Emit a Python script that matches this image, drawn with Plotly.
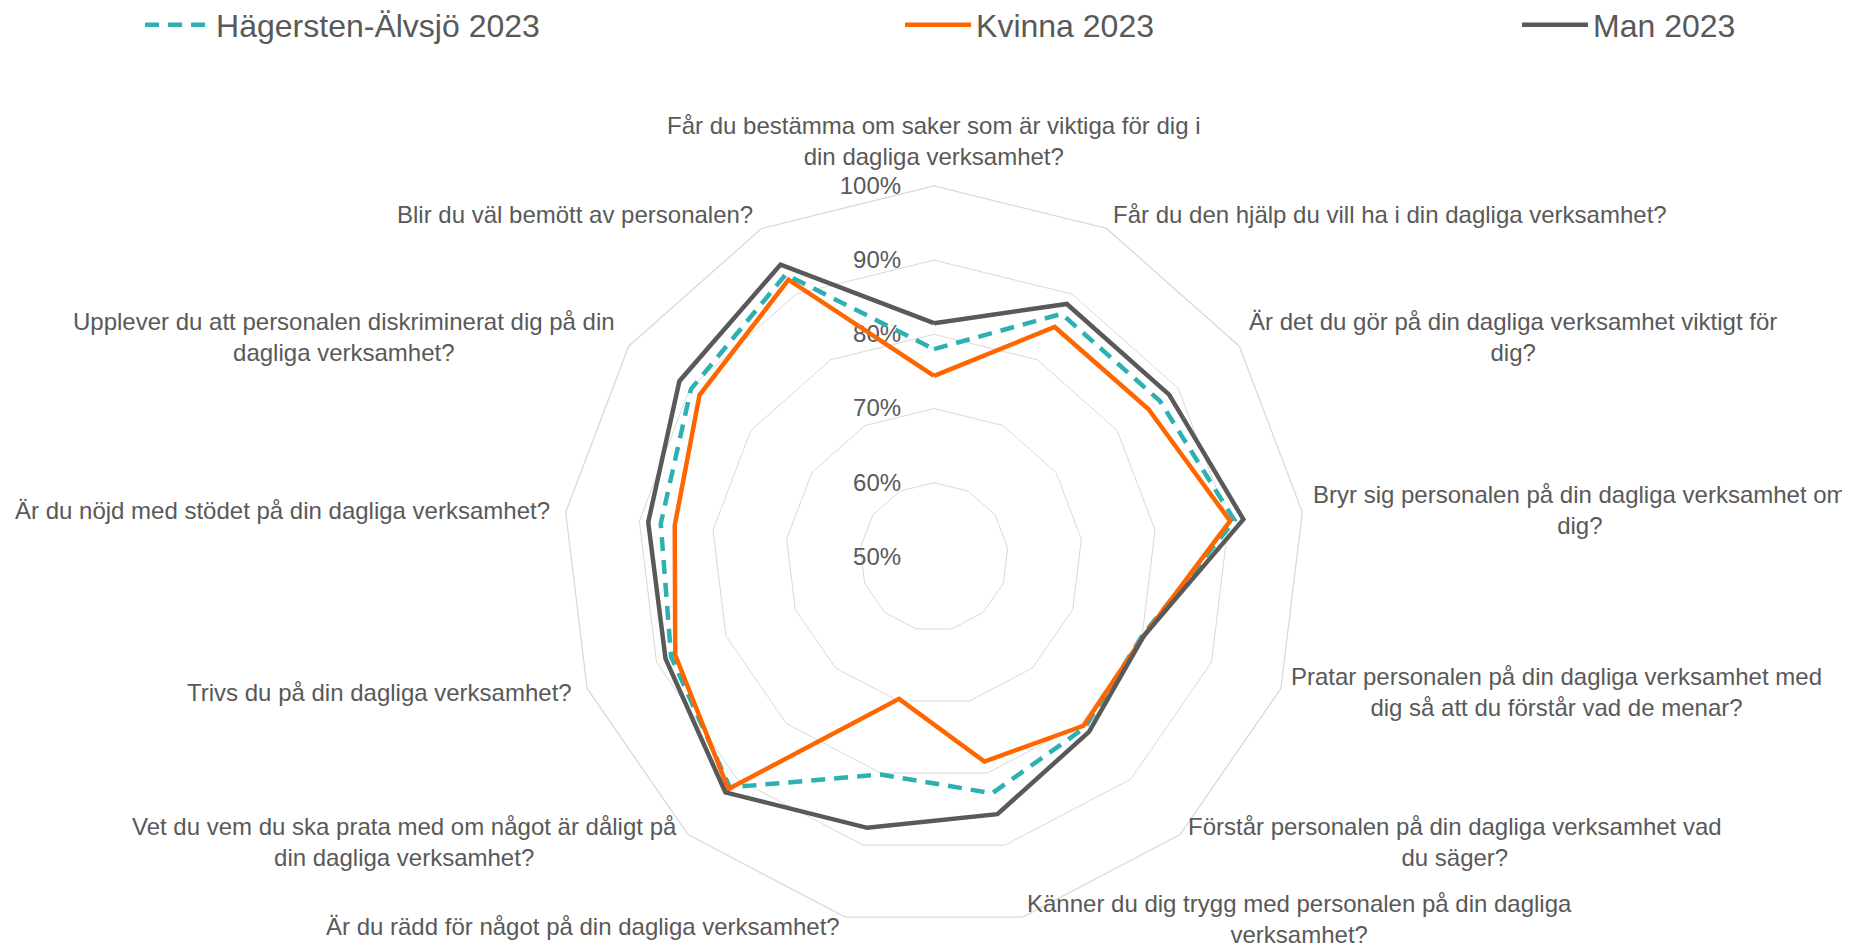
import math
import plotly.graph_objects as go

categories = [
    "Får du bestämma om saker som är viktiga för dig i<br>din dagliga verksamhet?",
    "Får du den hjälp du vill ha i din dagliga verksamhet?",
    "Är det du gör på din dagliga verksamhet viktigt för<br>dig?",
    "Bryr sig personalen på din dagliga verksamhet om<br>dig?",
    "Pratar personalen på din dagliga verksamhet med<br>dig så att du förstår vad de menar?",
    "Förstår personalen på din dagliga verksamhet vad<br>du säger?",
    "Känner du dig trygg med personalen på din dagliga<br>verksamhet?",
    "Är du rädd för något på din dagliga verksamhet?",
    "Vet du vem du ska prata med om något är dåligt på<br>din dagliga verksamhet?",
    "Trivs du på din dagliga verksamhet?",
    "Är du nöjd med stödet på din dagliga verksamhet?",
    "Upplever du att personalen diskriminerat dig på din<br>dagliga verksamhet?",
    "Blir du väl bemött av personalen?",
]

hagersten_2023 = [0.780, 0.870, 0.870, 0.908, 0.800, 0.807, 0.828, 0.802, 0.915, 0.879, 0.871, 0.898, 0.930]
kvinna_2023 = [0.744, 0.850, 0.851, 0.902, 0.802, 0.804, 0.784, 0.697, 0.918, 0.873, 0.852, 0.884, 0.922]
man_2023 = [0.815, 0.885, 0.885, 0.920, 0.802, 0.815, 0.857, 0.876, 0.924, 0.887, 0.888, 0.917, 0.945]

radial_ticks = [0.5, 0.6, 0.7, 0.8, 0.9, 1.0]

series = [
    ("Hägersten-Älvsjö 2023", hagersten_2023, "#2CB0B1", "14px,9px", "legend"),
    ("Kvinna 2023", kvinna_2023, "#FF6600", "solid", "legend2"),
    ("Man 2023", man_2023, "#595959", "solid", "legend3"),
]

W, H = 1850, 952
dom_x = [0.3000, 0.7011]
dom_y = [0.0337, 0.8131]

fig = go.Figure()
for name, vals, color, dash, leg in series:
    fig.add_trace(go.Scatterpolar(
        r=vals + vals[:1],
        theta=categories + categories[:1],
        mode="lines",
        name=name,
        line=dict(color=color, width=4.5, dash=dash),
        legend=leg,
        hoverinfo="skip",
    ))

text_color = "#595959"
font_family = "Liberation Sans, Arial, sans-serif"
label_size = 24

# category labels placed just outside each spoke's outer vertex, centred text blocks
cx = (dom_x[0] + dom_x[1]) / 2 * W
cy = (1 - (dom_y[0] + dom_y[1]) / 2) * H
R = (dom_x[1] - dom_x[0]) * W / 2
annotations = []
n = len(categories)
for i, label in enumerate(categories):
    th = 2 * math.pi * i / n
    s, c = math.sin(th), math.cos(th)
    pad_x = 9 if s > 0 else 14
    pad_y = 16 if c > 0 else 10
    px = cx + R * s + pad_x * s
    py = cy - R * c - pad_y * c
    if abs(s) < 0.01:
        xanchor, yanchor = "center", "bottom"
        py = cy - R - 14
    else:
        xanchor = "left" if s > 0 else "right"
        yanchor = "middle"
        half_h = (label.count("<br>") + 1) * label_size * 1.3 / 2 + 2
        py = min(py, H - 8 - half_h)
    annotations.append(dict(
        text=label, x=px / W, y=1 - py / H, xref="paper", yref="paper",
        xanchor=xanchor, yanchor=yanchor, align="center", showarrow=False,
        font=dict(size=label_size, color=text_color, family=font_family),
    ))

def legend_at(x):
    return dict(
        x=x, y=1.0111, xanchor="left", yanchor="top",
        orientation="h", bgcolor="rgba(0,0,0,0)", itemwidth=66,
        font=dict(size=32, color=text_color, family=font_family),
    )

fig.update_layout(
    width=W, height=H,
    margin=dict(l=0, r=0, t=0, b=0, autoexpand=False),
    paper_bgcolor="white",
    plot_bgcolor="white",
    font=dict(family=font_family, color=text_color),
    showlegend=True,
    legend=legend_at(0.0714),
    legend2=legend_at(0.4822),
    legend3=legend_at(0.8157),
    annotations=annotations,
    polar=dict(
        domain=dict(x=dom_x, y=dom_y),
        bgcolor="white",
        gridshape="linear",
        radialaxis=dict(
            range=[0.5, 1.0],
            tickvals=radial_ticks,
            tickformat=".0%",
            angle=90,
            tickangle=90,
            side="counterclockwise",
            showline=False,
            showgrid=True,
            gridcolor="#D9D9D9",
            gridwidth=1.3,
            ticks="outside",
            ticklen=24,
            tickcolor="rgba(0,0,0,0)",
            layer="below traces",
            tickfont=dict(size=label_size, color=text_color, family=font_family),
        ),
        angularaxis=dict(
            direction="clockwise",
            rotation=90,
            showgrid=False,
            showline=True,
            linecolor="#D9D9D9",
            linewidth=1.3,
            ticks="",
            showticklabels=False,
            layer="below traces",
        ),
    ),
)

fig.write_html("out.html")
